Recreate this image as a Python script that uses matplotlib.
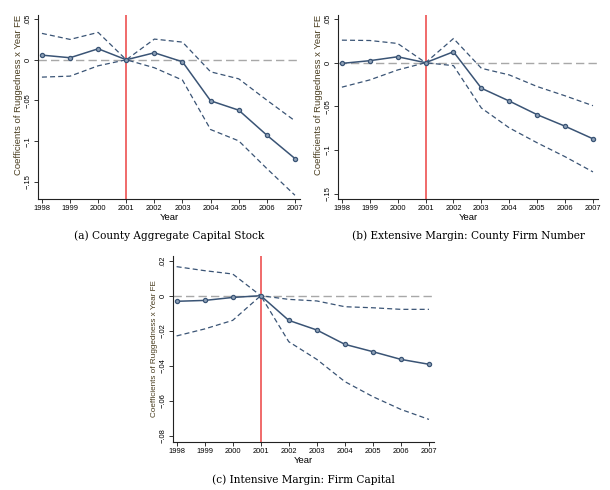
"""
Event-study coefficients: ruggedness x year FE, three panels
"""

import numpy as np
import matplotlib

matplotlib.use("Agg")
import matplotlib.pyplot as plt  # noqa:E402

years = [1998, 1999, 2000, 2001, 2002, 2003, 2004, 2005, 2006, 2007]

# (a) county aggregate capital stock
coef_a = [0.0057, 0.0025, 0.0135, 0.0, 0.0086, -0.0025, -0.0504, -0.0619, -0.0926, -0.1213]
upper_a = [0.0324, 0.0250, 0.0336, 0.0, 0.0254, 0.0217, -0.0148, -0.0234, -0.0496, -0.0750]
lower_a = [-0.0213, -0.0201, -0.0074, 0.0, -0.0098, -0.0250, -0.0857, -0.0996, -0.1336, -0.1664]

# (b) extensive margin: county firm number
coef_b = [-0.0008, 0.0023, 0.0068, 0.0, 0.0125, -0.0292, -0.0439, -0.0595, -0.0727, -0.0871]
upper_b = [0.0258, 0.0254, 0.0220, 0.0, 0.0277, -0.0064, -0.0140, -0.0273, -0.0379, -0.0492]
lower_b = [-0.0280, -0.0197, -0.0083, 0.0, -0.0034, -0.0519, -0.0746, -0.0917, -0.1076, -0.1250]

# (c) intensive margin: firm capital
coef_c = [-0.0032, -0.0027, -0.0010, 0.0, -0.0141, -0.0196, -0.0278, -0.0320, -0.0364, -0.0392]
upper_c = [0.0166, 0.0143, 0.0124, 0.0, -0.0021, -0.0030, -0.0063, -0.0069, -0.0078, -0.0078]
lower_c = [-0.0230, -0.0190, -0.0141, 0.0, -0.0263, -0.0364, -0.0491, -0.0577, -0.0650, -0.0707]

ticks_ab = [0.05, 0, -0.05, -0.1, -0.15]
labels_ab = [".05", "0", "\u2212.05", "\u2212.1", "\u2212.15"]
ticks_c = [0.02, 0, -0.02, -0.04, -0.06, -0.08]
labels_c = [".02", "0", "\u2212.02", "\u2212.04", "\u2212.06", "\u2212.08"]

captions = [
    "(a) County Aggregate Capital Stock",
    "(b) Extensive Margin: County Firm Number",
    "(c) Intensive Margin: Firm Capital",
]

LINE = "#3a5475"
SANS = "Liberation Sans"


def draw_panel(ax, coef, upper, lower, yticks, ylabels, ylim, caption,
               ylab_size, ylab_x, ylab_pos):
    ax.axhline(0, color="#a8a8a8", lw=1.0, ls=(0, (6, 3)), zorder=1)
    ax.axvline(2001, color="#f06a6a", lw=1.4, zorder=2)
    ax.plot(years, upper, color=LINE, lw=0.9, ls=(0, (4, 2.5)), zorder=3)
    ax.plot(years, lower, color=LINE, lw=0.9, ls=(0, (4, 2.5)), zorder=3)
    ax.plot(years, coef, color=LINE, lw=1.1, marker="o", ms=3.0,
            mfc="#8fa2b8", mec=LINE, mew=0.9, zorder=4)

    ax.set_xlim(1997.86, 2007.18)
    ax.set_ylim(*ylim)
    ax.set_xticks(years)
    ax.set_xticklabels([str(y) for y in years], fontsize=5.4, family=SANS)
    ax.set_yticks(yticks)
    ax.set_yticklabels(ylabels, fontsize=5.4, family=SANS, rotation=90, va="center")
    ax.tick_params(length=3, width=0.7, color="#333333", pad=1.5)
    for side in ("top", "right"):
        ax.spines[side].set_visible(False)
    for side in ("left", "bottom"):
        ax.spines[side].set_linewidth(0.8)
        ax.spines[side].set_color("#222222")
    ax.set_xlabel("Year", fontsize=6.8, family=SANS, labelpad=0.5)
    ax.set_ylabel("Coefficients of Ruggedness x Year FE", fontsize=ylab_size,
                  family=SANS, color="#4a3e20")
    ax.yaxis.set_label_coords(ylab_x, ylab_pos)
    ax.text(0.5, -0.172, caption, transform=ax.transAxes, ha="center",
            va="top", fontsize=7.6, family="DejaVu Serif")


def main():
    fig = plt.figure(figsize=(6.1, 4.9), dpi=100)
    ax_a = fig.add_axes([0.0623, 0.5939, 0.4295, 0.3755])
    ax_b = fig.add_axes([0.5541, 0.5939, 0.4262, 0.3755])
    ax_c = fig.add_axes([0.2831, 0.0980, 0.4284, 0.3796])

    draw_panel(ax_a, coef_a, upper_a, lower_a, ticks_ab, labels_ab,
               (-0.171, 0.055), captions[0], 6.8, -0.056, 0.565)
    draw_panel(ax_b, coef_b, upper_b, lower_b, ticks_ab, labels_ab,
               (-0.156, 0.0546), captions[1], 6.8, -0.056, 0.565)
    draw_panel(ax_c, coef_c, upper_c, lower_c, ticks_c, labels_c,
               (-0.0836, 0.0227), captions[2], 5.9, -0.058, 0.5)

    fig.savefig("out.png", dpi=100)
    plt.close(fig)


if __name__ == "__main__":
    main()
